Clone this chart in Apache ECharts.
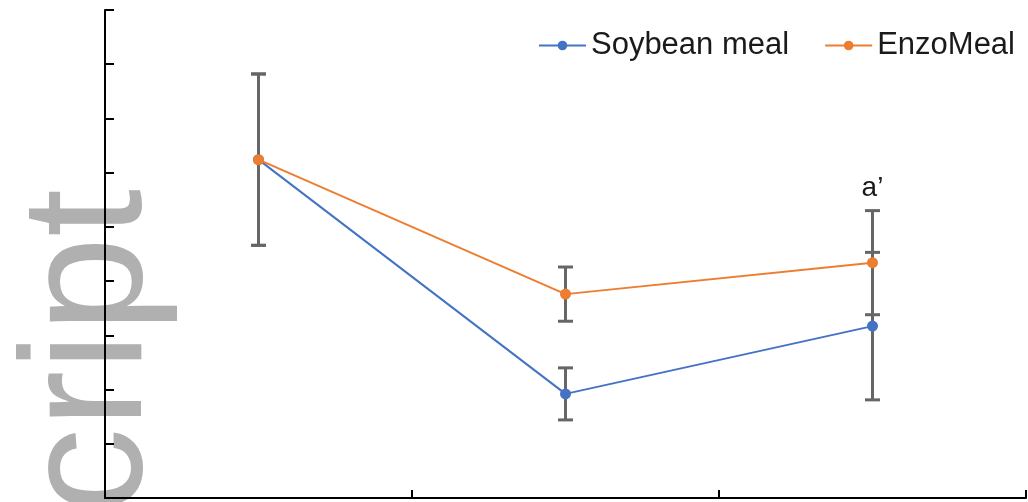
<!DOCTYPE html>
<html>
<head>
<meta charset="utf-8">
<script src="https://cdn.jsdelivr.net/npm/echarts@6/dist/echarts.min.js"></script>
<style>
  html, body { margin: 0; padding: 0; background: #fff; }
  #chart { width: 1028px; height: 502px; }
</style>
</head>
<body>
<div id="chart"></div>
<script>
// data (y axis has no labels, units 0..9)
var categories = ['T1', 'T2', 'T3'];
var soybeanMean = [6.24, 1.92, 3.17];
var soybeanErr = [1.58, 0.48, 1.36];
var enzoMean = [6.24, 3.76, 4.34];
var enzoErr = [1.58, 0.5, 0.96];
var enzoNotes = ['', '', 'a’'];

var blue = '#4472C4';
var orange = '#ED7D31';

function errData(mean, err, notes) {
  return mean.map(function (m, i) {
    return [i, m - err[i], m + err[i], notes ? notes[i] : ''];
  });
}

function renderErr(params, api) {
  var x = api.value(0);
  var lo = api.coord([x, api.value(1)]);
  var hi = api.coord([x, api.value(2)]);
  var cap = 7.5;
  var st = { stroke: '#666666', lineWidth: 3 };
  var kids = [
    { type: 'line', shape: { x1: lo[0], y1: lo[1], x2: hi[0], y2: hi[1] }, style: st },
    { type: 'line', shape: { x1: lo[0] - cap, y1: lo[1], x2: lo[0] + cap, y2: lo[1] }, style: st },
    { type: 'line', shape: { x1: hi[0] - cap, y1: hi[1], x2: hi[0] + cap, y2: hi[1] }, style: st }
  ];
  var note = api.value(3);
  if (note) {
    kids.push({
      type: 'text',
      x: hi[0], y: hi[1] - 8,
      style: { text: note, fill: '#1a1a1a', font: '28px "Liberation Sans", sans-serif', align: 'center', verticalAlign: 'bottom' }
    });
  }
  return { type: 'group', children: kids };
}

var myChart = echarts.init(document.getElementById('chart'));
myChart.setOption({
  animation: false,
  graphic: [{
    type: 'text',
    x: 180,
    y: 189,
    rotation: Math.PI / 2,
    z: -10,
    silent: true,
    style: {
      text: 'Manuscript',
      fill: '#b0b0b0',
      font: '172px "Liberation Sans", sans-serif',
      align: 'right',
      verticalAlign: 'bottom'
    }
  }],
  grid: {
    left: 105,
    right: 2,
    top: 10,
    bottom: 4
  },
  legend: {
    right: 8,
    top: 25,
    itemWidth: 47,
    itemHeight: 12,
    itemGap: 35,
    textStyle: { fontSize: 31, color: '#1a1a1a', fontFamily: 'Liberation Sans' },
    data: ['Soybean meal', 'EnzoMeal']
  },
  xAxis: {
    type: 'category',
    data: categories,
    boundaryGap: true,
    axisLine: { lineStyle: { color: '#000', width: 2 } },
    axisTick: { show: true, inside: true, length: 8, lineStyle: { color: '#000', width: 2 } },
    axisLabel: { show: false },
    splitLine: { show: false }
  },
  yAxis: {
    type: 'value',
    min: 0,
    max: 9,
    interval: 1,
    axisLine: { show: true, lineStyle: { color: '#000', width: 2 } },
    axisTick: { show: true, inside: true, length: 9, lineStyle: { color: '#000', width: 2 } },
    axisLabel: { show: false },
    splitLine: { show: false }
  },
  series: [
    {
      name: 'Soybean err',
      type: 'custom',
      renderItem: renderErr,
      data: errData(soybeanMean, soybeanErr),
      z: 1,
      silent: true
    },
    {
      name: 'EnzoMeal err',
      type: 'custom',
      renderItem: renderErr,
      data: errData(enzoMean, enzoErr, enzoNotes),
      z: 1,
      silent: true
    },
    {
      name: 'Soybean meal',
      type: 'line',
      data: soybeanMean,
      symbol: 'circle',
      symbolSize: 11,
      color: blue,
      lineStyle: { width: 2, color: blue },
      itemStyle: { color: blue },
      z: 3
    },
    {
      name: 'EnzoMeal',
      type: 'line',
      data: enzoMean,
      symbol: 'circle',
      symbolSize: 11,
      color: orange,
      lineStyle: { width: 2, color: orange },
      itemStyle: { color: orange },
      z: 4
    }
  ]
});
</script>
</body>
</html>
